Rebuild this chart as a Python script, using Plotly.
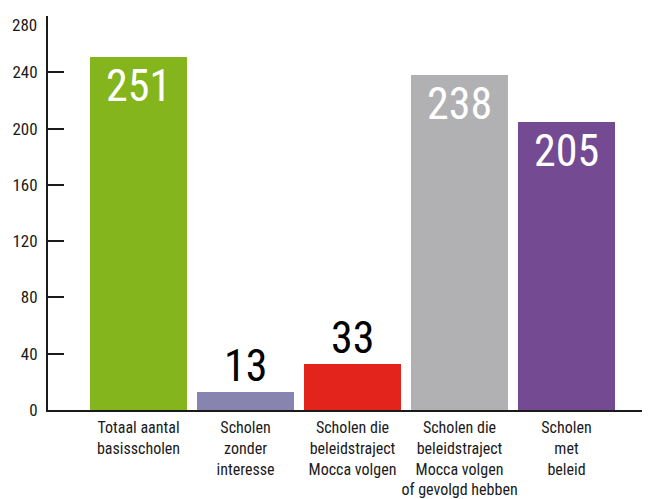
import plotly.graph_objects as go

categories = [
    "Totaal aantal<br>basisscholen",
    "Scholen<br>zonder<br>interesse",
    "Scholen die<br>beleidstraject<br>Mocca volgen",
    "Scholen die<br>beleidstraject<br>Mocca volgen<br>of gevolgd hebben",
    "Scholen<br>met<br>beleid",
]
values = [251, 13, 33, 238, 205]
colors = ["#84B51C", "#8784B0", "#E3241C", "#B1B1B3", "#744A93"]
label_inside = [True, False, False, True, True]
y_ticks = [0, 40, 80, 120, 160, 200, 240, 280]

FONT = "Liberation Sans Narrow, Roboto Condensed, Arial Narrow, sans-serif"
TXT = "#1a1a1a"

fig = go.Figure()
fig.add_trace(go.Bar(
    x=list(range(len(values))),
    y=values,
    marker=dict(color=colors, line=dict(width=0)),
    width=0.907,
    hoverinfo="skip",
))

for i, (v, inside) in enumerate(zip(values, label_inside)):
    if inside:
        fig.add_annotation(x=i, y=v, text=str(v), showarrow=False,
                           yanchor="top", yshift=-1,
                           font=dict(family=FONT, size=44, color="white"))
    else:
        fig.add_annotation(x=i, y=v, text=str(v), showarrow=False,
                           yanchor="bottom", yshift=-2,
                           font=dict(family=FONT, size=44, color="black"))

# top tick label sits just below its tick (as in the reference), drawn as an annotation
top_tick = y_ticks[-1]
fig.add_annotation(xref="paper", yref="y", x=0, y=top_tick, text=str(top_tick),
                   showarrow=False, xanchor="right", yanchor="top",
                   xshift=-9, yshift=3,
                   font=dict(family=FONT, size=17, color=TXT))
tick_text = [str(t) if t != top_tick else "" for t in y_ticks]

# small end tick at the right of the x axis
fig.add_shape(type="line", xref="paper", yref="y", x0=1, x1=1, y0=0, y1=7,
              line=dict(color=TXT, width=1.5))

# the page body adds an 8px offset; the figure is sized to fill the window
fig.update_layout(
    width=642, height=491,
    margin=dict(l=40, r=1, t=8, b=89),
    paper_bgcolor="white", plot_bgcolor="white",
    showlegend=False,
    font=dict(family=FONT, color=TXT),
    xaxis=dict(
        range=[-0.846, 4.771],
        automargin=False,
        tickmode="array",
        tickvals=list(range(len(categories))),
        ticktext=categories,
        showline=True, linecolor=TXT, linewidth=1.5,
        ticks="", showgrid=False, zeroline=False,
        ticklabelstandoff=2,
        ticklabeloverflow="allow",
        tickfont=dict(family=FONT, size=16, color=TXT),
    ),
    yaxis=dict(
        range=[0, 280],
        automargin=False,
        tickmode="array",
        tickvals=y_ticks,
        ticktext=tick_text,
        showline=True, linecolor=TXT, linewidth=2,
        ticks="inside", ticklen=16, tickwidth=2, tickcolor=TXT,
        showgrid=False, zeroline=False,
        ticklabelstandoff=5,
        ticklabeloverflow="allow",
        tickfont=dict(family=FONT, size=17, color=TXT),
    ),
    bargap=0,
)

fig.write_html("out.html")
